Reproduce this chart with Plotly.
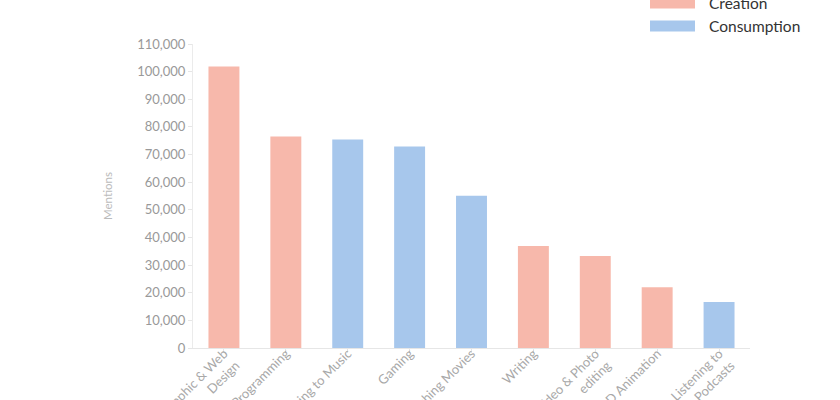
import plotly.graph_objects as go

categories = ["Graphic & Web<br>Design", "Programming", "Listening to Music", "Gaming",
              "Watching Movies", "Writing", "Video & Photo<br>editing", "3D Animation",
              "Listening to<br>Podcasts"]
mentions = [101900, 76500, 75400, 72900, 55100, 36900, 33300, 22000, 16600]
kinds = ["Creation", "Creation", "Consumption", "Consumption", "Consumption",
         "Creation", "Creation", "Creation", "Consumption"]
colors_map = {"Creation": "#F7B8AB", "Consumption": "#A7C7EC"}

fig = go.Figure()
fig.add_trace(go.Bar(
    x=categories, y=mentions,
    marker=dict(color=[colors_map[k] for k in kinds], line=dict(width=0)),
    showlegend=False,
))

font_fam = "Lato, Inter, sans-serif"
L, T, PW, PH = 193, 44, 557, 304
fig.update_layout(
    width=840, height=400,
    margin=dict(l=L, r=840 - L - PW, t=T, b=400 - T - PH, autoexpand=False),
    plot_bgcolor="white", paper_bgcolor="white",
    bargap=0.5,
    font=dict(family=font_fam, color="#999999", size=12),
    xaxis=dict(
        tickangle=-45, showgrid=False, showline=True, linecolor="#E6E6E6", linewidth=1,
        tickfont=dict(size=13, color="#A8A8A8"), automargin=False,
        ticks="outside", ticklen=4, tickcolor="#E6E6E6",
        ticklabelstandoff=-12,
    ),
    yaxis=dict(
        range=[0, 110000], dtick=10000, tickformat=",", showgrid=False,
        showline=True, linecolor="#EBEBEB", linewidth=1,
        ticks="outside", ticklen=4, tickcolor="#E6E6E6",
        tickfont=dict(size=13, color="#999999"), automargin=False,
        title=dict(text="Mentions", font=dict(size=11.5, color="#BBBBBB"), standoff=22),
    ),
)

# custom legend
legend_items = [("Creation", 3), ("Consumption", 26)]
for name, yc in legend_items:
    fig.add_shape(type="rect", xref="paper", yref="paper",
                  x0=(650 - L) / PW, x1=(695 - L) / PW,
                  y0=(T + PH - (yc + 5.5)) / PH, y1=(T + PH - (yc - 5.5)) / PH,
                  fillcolor=colors_map[name], line=dict(width=0), layer="above")
    fig.add_annotation(xref="paper", yref="paper", x=(707 - L) / PW,
                       y=(T + PH - yc) / PH, text=name, showarrow=False,
                       xanchor="left", yanchor="middle",
                       font=dict(size=15.5, color="#333333", family=font_fam))

fig.write_html("out.html", config={"displayModeBar": False},
               post_script="document.body.style.margin='0';")
